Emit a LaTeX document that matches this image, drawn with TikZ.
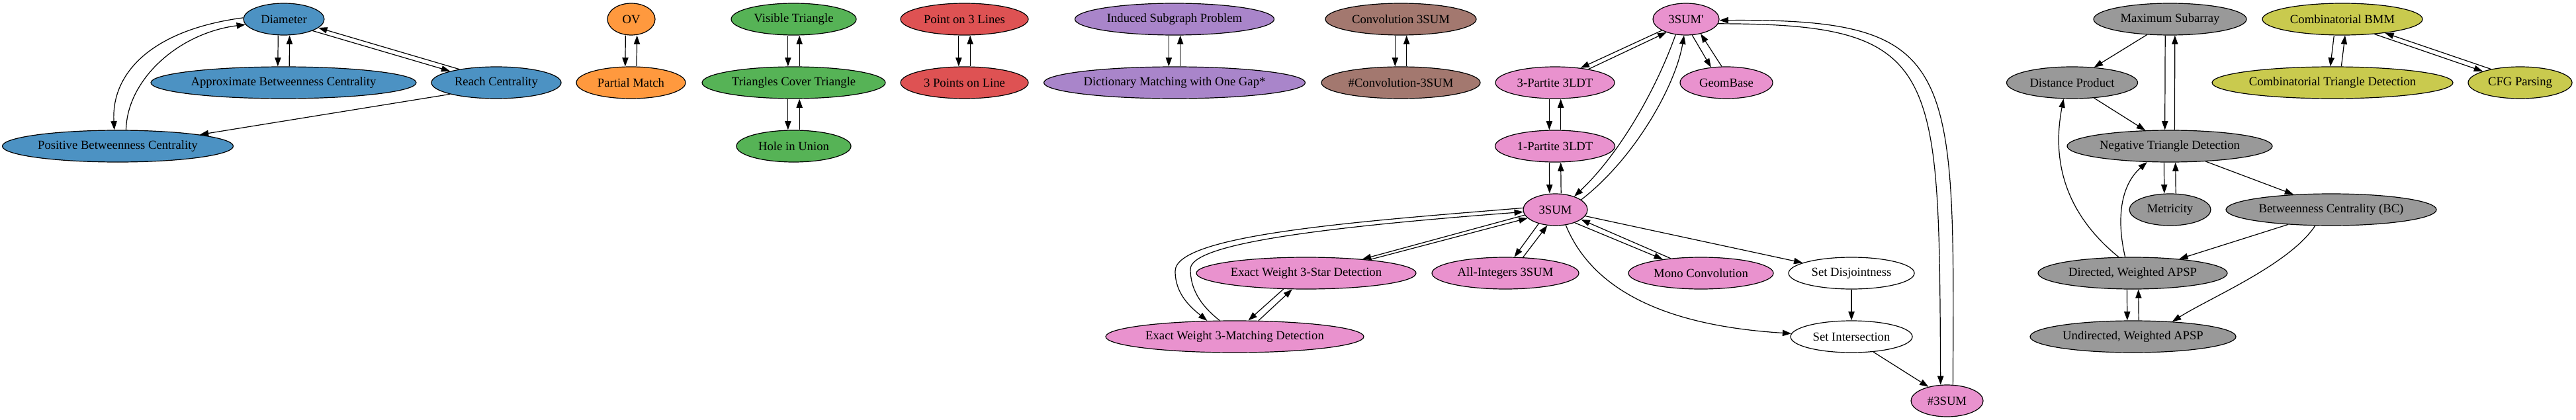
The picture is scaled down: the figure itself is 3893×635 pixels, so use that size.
\documentclass[tikz,border=0pt]{standalone}
\usepackage{fontspec}
\setmainfont{Liberation Serif}
\usetikzlibrary{shapes.geometric,arrows.meta}
\definecolor{cblue}{HTML}{4C92C3}
\definecolor{corange}{HTML}{FF993E}
\definecolor{cgreen}{HTML}{56B356}
\definecolor{cred}{HTML}{DE5253}
\definecolor{cpurple}{HTML}{A985CA}
\definecolor{cbrown}{HTML}{A3786F}
\definecolor{cpink}{HTML}{E992CE}
\definecolor{cgrey}{HTML}{999999}
\definecolor{colive}{HTML}{C9CA4E}
\begin{document}
\begin{tikzpicture}[x=0.75pt,y=-0.75pt,
  nd/.style={ellipse,draw=black,line width=0.9pt,inner sep=0pt,minimum height=36pt,
    font=\fontsize{14pt}{16pt}\selectfont},
  ew/.style={minimum width=#1*0.75pt},
  ar/.style={-{Triangle[length=10pt,width=7pt]},line width=0.9pt}]
\useasboundingbox (0,0) rectangle (3893,635);
% blue
\node[nd,fill=cblue,ew=122] (diam) at (429,29) {Diameter};
\node[nd,fill=cblue,ew=401] (appr) at (428.5,125) {Approximate Betweenness Centrality};
\node[nd,fill=cblue,ew=196] (reach) at (750,125) {Reach Centrality};
\node[nd,fill=cblue,ew=349] (pos) at (178,221) {Positive Betweenness Centrality};
% orange
\node[nd,fill=corange,ew=72] (ov) at (954,29) {OV};
\node[nd,fill=corange,ew=165] (pm) at (953.5,125) {Partial Match};
% green
\node[nd,fill=cgreen,ew=189] (vt) at (1199.5,29) {Visible Triangle};
\node[nd,fill=cgreen,ew=277] (tct) at (1199.5,125) {Triangles Cover Triangle};
\node[nd,fill=cgreen,ew=173] (hu) at (1199.5,221) {Hole in Union};
% red
\node[nd,fill=cred,ew=193] (ptl) at (1457.5,29) {Point on 3 Lines};
\node[nd,fill=cred,ew=193] (tpl) at (1457.5,125) {3 Points on Line};
% purple
\node[nd,fill=cpurple,ew=301] (isp) at (1775,29) {Induced Subgraph Problem};
\node[nd,fill=cpurple,ew=395] (dm) at (1775,125) {Dictionary Matching with One Gap*};
% brown
\node[nd,fill=cbrown,ew=228] (cv) at (2117,29) {Convolution 3SUM};
\node[nd,fill=cbrown,ew=240] (ncv) at (2117,125) {\#Convolution-3SUM};
% pink
\node[nd,fill=cpink,ew=100] (s3p) at (2548,29) {3SUM\textquotesingle};
\node[nd,fill=cpink,ew=180] (p3) at (2350,125) {3-Partite 3LDT};
\node[nd,fill=cpink,ew=140] (geom) at (2609,125) {GeomBase};
\node[nd,fill=cpink,ew=181] (p1) at (2350,221) {1-Partite 3LDT};
\node[nd,fill=cpink,ew=97] (s3) at (2350.5,317) {3SUM};
\node[nd,fill=cpink,ew=332] (star) at (1974,413) {Exact Weight 3-Star Detection};
\node[nd,fill=cpink,ew=222] (ai) at (2275,413) {All-Integers 3SUM};
\node[nd,fill=cpink,ew=219] (mono) at (2570.5,413) {Mono Convolution};
\node[nd,fill=white,ew=190] (sd) at (2798,413) {Set Disjointness};
\node[nd,fill=cpink,ew=390] (match) at (1866,509) {Exact Weight 3-Matching Detection};
\node[nd,fill=white,ew=184] (si) at (2798,509) {Set Intersection};
\node[nd,fill=cpink,ew=109] (n3) at (2942.5,606) {\#3SUM};
% grey
\node[nd,fill=cgrey,ew=231] (ms) at (3279.5,29) {Maximum Subarray};
\node[nd,fill=cgrey,ew=198] (dp) at (3131.5,125) {Distance Product};
\node[nd,fill=cgrey,ew=310] (ntd) at (3279,221) {Negative Triangle Detection};
\node[nd,fill=cgrey,ew=123] (met) at (3279.5,317) {Metricity};
\node[nd,fill=cgrey,ew=318] (bc) at (3523,317) {Betweenness Centrality (BC)};
\node[nd,fill=cgrey,ew=286] (dap) at (3223,413) {Directed, Weighted APSP};
\node[nd,fill=cgrey,ew=311] (uap) at (3223.5,509) {Undirected, Weighted APSP};
% olive
\node[nd,fill=colive,ew=242] (bmm) at (3540,29) {Combinatorial BMM};
\node[nd,fill=colive,ew=364] (ctd) at (3525,125) {Combinatorial Triangle Detection};
\node[nd,fill=colive,ew=157] (cfg) at (3808.5,125) {CFG Parsing};

% blue edges
\draw[ar] ([xshift=-6.5pt]diam.south) -- ([xshift=-6.5pt]appr.north);
\draw[ar] ([xshift=6.5pt]appr.north) -- ([xshift=6.5pt]diam.south);
\draw[ar] (diam.-22) -- (reach.166);
\draw[ar] (reach.160) -- (diam.-14);
\draw[ar] (diam.178) .. controls (230,45) and (168,110) .. (pos.102);
\draw[ar] (pos.63) .. controls (192,120) and (270,50) .. (diam.-172);
\draw[ar] (reach.-166) -- (pos.8);
% vertical pairs
\draw[ar] ([xshift=-6.5pt]ov.south) -- ([xshift=-6.5pt]pm.north);
\draw[ar] ([xshift=6.5pt]pm.north) -- ([xshift=6.5pt]ov.south);
\draw[ar] ([xshift=-6.5pt]vt.south) -- ([xshift=-6.5pt]tct.north);
\draw[ar] ([xshift=6.5pt]tct.north) -- ([xshift=6.5pt]vt.south);
\draw[ar] ([xshift=-6.5pt]tct.south) -- ([xshift=-6.5pt]hu.north);
\draw[ar] ([xshift=6.5pt]hu.north) -- ([xshift=6.5pt]tct.south);
\draw[ar] ([xshift=-6.5pt]ptl.south) -- ([xshift=-6.5pt]tpl.north);
\draw[ar] ([xshift=6.5pt]tpl.north) -- ([xshift=6.5pt]ptl.south);
\draw[ar] ([xshift=-6.5pt]isp.south) -- ([xshift=-6.5pt]dm.north);
\draw[ar] ([xshift=6.5pt]dm.north) -- ([xshift=6.5pt]isp.south);
\draw[ar] ([xshift=-6.5pt]cv.south) -- ([xshift=-6.5pt]ncv.north);
\draw[ar] ([xshift=6.5pt]ncv.north) -- ([xshift=6.5pt]cv.south);
% pink edges
\draw[ar] (s3p.-155) -- (p3.30);
\draw[ar] (p3.22) -- (s3p.-146);
\draw[ar] (s3p.-69) -- (geom.135);
\draw[ar] (geom.106) -- (s3p.-45);
\draw[ar] (s3p.-124) .. controls (2505,130) and (2450,230) .. (s3.35);
\draw[ar] (s3.21) .. controls (2470,240) and (2532,130) .. (s3p.-97);
\draw[ar] (s3p.-8) .. controls (2935,36) and (2930,100) .. (n3.112);
\draw[ar] (n3.70) .. controls (2954,95) and (2958,28) .. (s3p.-2);
\draw[ar] ([xshift=-6.5pt]p3.south) -- ([xshift=-6.5pt]p1.north);
\draw[ar] ([xshift=6.5pt]p1.north) -- ([xshift=6.5pt]p3.south);
\draw[ar] ([xshift=-6.5pt]p1.south) -- ([xshift=-6.5pt]s3.north);
\draw[ar] ([xshift=6.5pt]s3.north) -- ([xshift=6.5pt]p1.south);
\draw[ar] (s3.190) -- (star.14);
\draw[ar] (star.12) -- (s3.197);
\draw[ar] (s3.177) .. controls (2050,335) and (1776,355) .. (1776,410)
  .. controls (1776,445) and (1800,465) .. (match.150);
\draw[ar] (match.133) .. controls (1812,460) and (1799,435) .. (1799,407)
  .. controls (1799,370) and (1980,345) .. (s3.184);
\draw[ar] (star.215) -- (match.50);
\draw[ar] (match.34) -- (star.229);
\draw[ar] (s3.220) -- (ai.61);
\draw[ar] (ai.42) -- (s3.243);
\draw[ar] (s3.-34) -- (mono.160);
\draw[ar] (mono.154) -- (s3.-21);
\draw[ar] (s3.-12) -- (sd.168);
\draw[ar] (s3.-56) .. controls (2405,435) and (2510,492) .. (si.177);
\draw[ar] (sd) -- (si);
\draw[ar] (si.-35) -- (n3.143);
% grey edges
\draw[ar] (ms.214) -- (dp.35);
\draw[ar] ([xshift=-5.5pt]ms.south) -- ([xshift=-5.5pt]ntd.north);
\draw[ar] ([xshift=5.5pt]ntd.north) -- ([xshift=5.5pt]ms.south);
\draw[ar] (dp.-35) -- (ntd.147);
\draw[ar] ([xshift=-6.5pt]ntd.south) -- ([xshift=-6.5pt]met.north);
\draw[ar] ([xshift=6.5pt]met.north) -- ([xshift=6.5pt]ntd.south);
\draw[ar] (ntd.-23) -- (bc.158);
\draw[ar] (dap.131) .. controls (3105,310) and (3105,220) .. (dp.242);
\draw[ar] (dap.115) .. controls (3198,330) and (3205,280) .. (ntd.215);
\draw[ar] (bc.199) -- (dap.17);
\draw[ar] (bc.225) .. controls (3460,400) and (3340,450) .. (uap.21);
\draw[ar] ([xshift=-6.5pt]dap.south) -- ([xshift=-6.5pt]uap.north);
\draw[ar] ([xshift=6.5pt]uap.north) -- ([xshift=6.5pt]dap.south);
% olive edges
\draw[ar] ([xshift=-9.5pt]bmm.south) -- ([xshift=-2.5pt]ctd.north);
\draw[ar] ([xshift=10pt]ctd.north) -- ([xshift=3pt]bmm.south);
\draw[ar] (bmm.-25) -- (cfg.163);
\draw[ar] (cfg.155) -- (bmm.-18);
\end{tikzpicture}
\end{document}
